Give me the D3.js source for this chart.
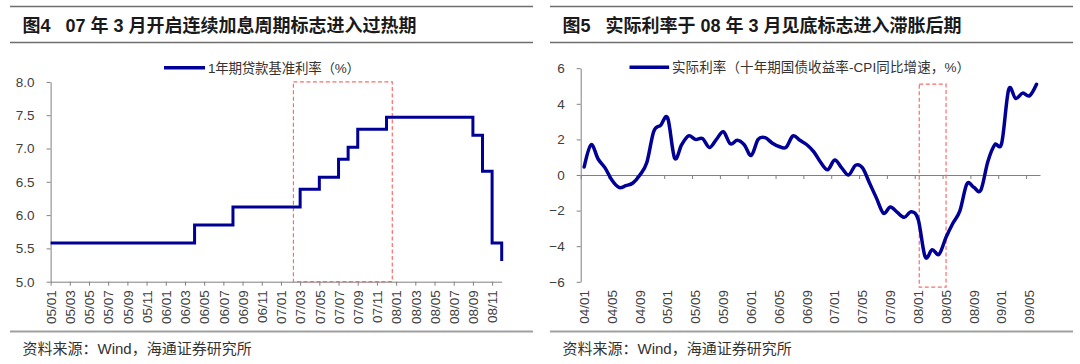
<!DOCTYPE html>
<html>
<head>
    <meta charset="utf-8">
    <title>图4 图5</title>
    <script src="https://d3js.org/d3.v7.min.js"></script>
    <style>
        body { margin: 0; background: #fff; }
        text { font-family: "Liberation Sans", "Noto Sans CJK SC", sans-serif; }
    </style>
</head>

<body>
<div id="chart"></div>

<script type="text/javascript">
	// 图4: 1年期贷款基准利率, step changes (month "YY/MM", rate %)
	let rateMonths = ["05/01","06/04","06/08","07/03","07/05","07/07","07/08","07/09","07/12","08/09","08/10","08/11","08/12"];
	let rateValues = [5.58, 5.85, 6.12, 6.39, 6.57, 6.84, 7.02, 7.29, 7.47, 7.20, 6.66, 5.58, 5.31];
	let leftTickLabels = ["05/01","05/03","05/05","05/07","05/09","05/11","06/01","06/03","06/05","06/07","06/09","06/11",
	                      "07/01","07/03","07/05","07/07","07/09","07/11","08/01","08/03","08/05","08/07","08/09","08/11"];
	let leftYTicks = [5.0, 5.5, 6.0, 6.5, 7.0, 7.5, 8.0];
	let leftBoxMonths = [25.3, 35.6];   // months after 05/01
	let leftBoxValues = [5.0, 8.0];

	// 图5: 实际利率, monthly from 04/01 to 09/06
	let realStart = "04/01";
	let realValues = [0.45, 1.7, 0.9, 0.4, -0.3, -0.7, -0.6, -0.45, 0.0, 0.7, 2.45, 2.8,
	                  3.2, 0.95, 1.7, 2.2, 2.0, 2.05, 1.55, 2.0, 2.43, 1.75, 1.95, 1.7,
	                  1.1, 2.0, 2.1, 1.8, 1.6, 1.55, 2.2, 1.95, 1.7, 1.3, 0.7, 0.3,
	                  0.84, 0.4, 0.0, 0.55, 0.4, -0.45, -1.3, -2.15, -1.8, -2.1, -2.38, -2.06,
	                  -2.5, -4.6, -4.2, -4.45, -3.5, -2.7, -2.0, -0.5, -0.7, -0.85, 0.75, 1.7,
	                  1.8, 4.8, 4.3, 4.6, 4.45, 5.1];
	let rightTickLabels = ["04/01","04/05","04/09","05/01","05/05","05/09","06/01","06/05","06/09",
	                       "07/01","07/05","07/09","08/01","08/05","08/09","09/01","09/05"];
	let rightYTicks = [-6, -4, -2, 0, 2, 4, 6];
	let rightBoxMonths = [48.65, 52.5];
	let rightBoxValues = [-6.3, 5.1];

	let lineColor = "#000096";
	let axisColor = "#808080";
	let labelColor = "#404040";

	function monthIndex(label, start) {
		let a = label.split("/").map(Number);
		let b = start.split("/").map(Number);
		return (a[0] - b[0]) * 12 + (a[1] - b[1]);
	}

	let svg = d3.select("#chart")
	        .append("svg")
	            .attr("width", 1080)
	            .attr("height", 364);

	// header / footer rules and texts for both panels
	let panels = [
		{x0: 10, x1: 533, title: "图4   07 年 3 月开启连续加息周期标志进入过热期"},
		{x0: 550, x1: 1073, title: "图5   实际利率于 08 年 3 月见底标志进入滞胀后期"}
	];
	panels.forEach(function(p) {
		svg.append("line").attr("x1", p.x0).attr("x2", p.x1).attr("y1", 6.5).attr("y2", 6.5)
			.attr("stroke", "#6e6e6e").attr("stroke-width", 1.6);
		svg.append("line").attr("x1", p.x0).attr("x2", p.x1).attr("y1", 42.5).attr("y2", 42.5)
			.attr("stroke", "#6e6e6e").attr("stroke-width", 1.6);
		svg.append("line").attr("x1", p.x0).attr("x2", p.x1).attr("y1", 331.5).attr("y2", 331.5)
			.attr("stroke", "#a0a0a0").attr("stroke-width", 2);
		svg.append("text")
			.attr("x", p.x0 + 12.5).attr("y", 31.5)
			.attr("font-size", "18px").attr("font-weight", "bold").attr("fill", "#1a1a1a")
			.style("white-space", "pre")
			.text(p.title);
		svg.append("text")
			.attr("x", p.x0 + 12.5).attr("y", 354)
			.attr("font-size", "15px").attr("fill", "#333")
			.text("资料来源：Wind，海通证券研究所");
	});

	// ---------- left chart ----------
	let xL = d3.scaleLinear().domain([0, 47]).range([50.6, 501.7]);
	let yL = d3.scaleLinear().domain([5, 8]).range([281.7, 81.9]);

	let left = svg.append("g");

	let yAxisL = d3.axisLeft(yL).tickValues(leftYTicks).tickFormat(d3.format(".1f"))
	                .tickSize(4).tickPadding(12).tickSizeOuter(0);
	let gyl = left.append("g").attr("transform", "translate(" + xL(0) + ",0)").call(yAxisL);

	let xAxisL = d3.axisBottom(xL)
	                .tickValues(leftTickLabels.map(function(d){ return monthIndex(d, "05/01"); }))
	                .tickFormat(function(d, i){ return leftTickLabels[i]; })
	                .tickSize(4).tickSizeOuter(0);
	let gxl = left.append("g").attr("transform", "translate(0," + yL(5) + ")").call(xAxisL);
	gxl.selectAll("text")
		.attr("transform", "rotate(-90)")
		.attr("x", -8.5).attr("y", 0).attr("dy", "0.35em")
		.style("text-anchor", "end");

	[gyl, gxl].forEach(function(g) {
		g.selectAll("path, line").attr("stroke", axisColor);
		g.selectAll("text").attr("fill", labelColor).attr("font-size", "13.5px")
			.attr("font-family", "Liberation Sans, sans-serif");
	});

	left.append("rect")
		.attr("x", xL(leftBoxMonths[0]))
		.attr("y", yL(leftBoxValues[1]))
		.attr("width", xL(leftBoxMonths[1]) - xL(leftBoxMonths[0]))
		.attr("height", yL(leftBoxValues[0]) - yL(leftBoxValues[1]))
		.attr("fill", "none").attr("stroke", "#ff6b6b").attr("stroke-width", 1.2)
		.attr("stroke-dasharray", "4,2.5");

	let rateData = rateMonths.map(function(m, i){ return {i: monthIndex(m, "05/01"), v: rateValues[i]}; });
	left.append("path")
		.datum(rateData)
		.attr("fill", "none")
		.attr("stroke", lineColor)
		.attr("stroke-width", 3)
		.attr("d", d3.line().curve(d3.curveStepAfter)
			.x(function(d){ return xL(d.i); })
			.y(function(d){ return yL(d.v); }));

	left.append("line").attr("x1", 164).attr("x2", 205).attr("y1", 67.7).attr("y2", 67.7)
		.attr("stroke", lineColor).attr("stroke-width", 3.5);
	left.append("text").attr("x", 208).attr("y", 72.5)
		.attr("font-size", "13.5px").attr("fill", "#333")
		.attr("textLength", 152).attr("lengthAdjust", "spacing")
		.text("1年期贷款基准利率（%）");

	// ---------- right chart ----------
	let xR = d3.scaleLinear().domain([0, realValues.length]).range([580.7, 1040]);
	let yR = d3.scaleLinear().domain([-6, 6]).range([281.8, 68.2]);

	let right = svg.append("g");

	let yAxisR = d3.axisLeft(yR).tickValues(rightYTicks).tickFormat(d3.format("d"))
	                .tickSize(4).tickPadding(12).tickSizeOuter(0);
	let gyr = right.append("g").attr("transform", "translate(" + xR(0) + ",0)").call(yAxisR);

	// tick marks sit between months, every 4 months, on the zero line
	let xAxisR = d3.axisBottom(xR)
	                .tickValues(rightTickLabels.map(function(d){ return monthIndex(d, realStart); }))
	                .tickFormat("")
	                .tickSize(4).tickSizeOuter(0);
	let gxr = right.append("g").attr("transform", "translate(0," + yR(0) + ")").call(xAxisR);

	right.append("g").selectAll("text")
		.data(rightTickLabels)
		.enter()
		.append("text")
		.attr("transform", function(d){
			return "translate(" + xR(monthIndex(d, realStart) + 0.5) + ",290) rotate(-90)";
		})
		.attr("dy", "0.35em")
		.style("text-anchor", "end")
		.attr("font-family", "Liberation Sans, sans-serif")
		.attr("font-size", "13.5px")
		.attr("fill", labelColor)
		.text(function(d){ return d; });

	[gyr, gxr].forEach(function(g) {
		g.selectAll("path, line").attr("stroke", axisColor);
		g.selectAll("text").attr("fill", labelColor).attr("font-size", "13.5px")
			.attr("font-family", "Liberation Sans, sans-serif");
	});

	right.append("rect")
		.attr("x", xR(rightBoxMonths[0]))
		.attr("y", yR(rightBoxValues[1]))
		.attr("width", xR(rightBoxMonths[1]) - xR(rightBoxMonths[0]))
		.attr("height", yR(rightBoxValues[0]) - yR(rightBoxValues[1]))
		.attr("fill", "none").attr("stroke", "#ff6b6b").attr("stroke-width", 1.2)
		.attr("stroke-dasharray", "4,2.5");

	right.append("path")
		.datum(realValues)
		.attr("fill", "none")
		.attr("stroke", lineColor)
		.attr("stroke-width", 3.5)
		.attr("stroke-linejoin", "round")
		.attr("stroke-linecap", "round")
		.attr("d", d3.line().curve(d3.curveCardinal.tension(0))
			.x(function(d, i){ return xR(i + 0.5); })
			.y(function(d){ return yR(d); }));

	right.append("line").attr("x1", 629.5).attr("x2", 669.1).attr("y1", 67.3).attr("y2", 67.3)
		.attr("stroke", lineColor).attr("stroke-width", 3.5);
	right.append("text").attr("x", 672).attr("y", 72)
		.attr("font-size", "13.5px").attr("fill", "#333")
		.attr("textLength", 298).attr("lengthAdjust", "spacing")
		.text("实际利率（十年期国债收益率-CPI同比增速，%）");
</script>
</body>
</html>
